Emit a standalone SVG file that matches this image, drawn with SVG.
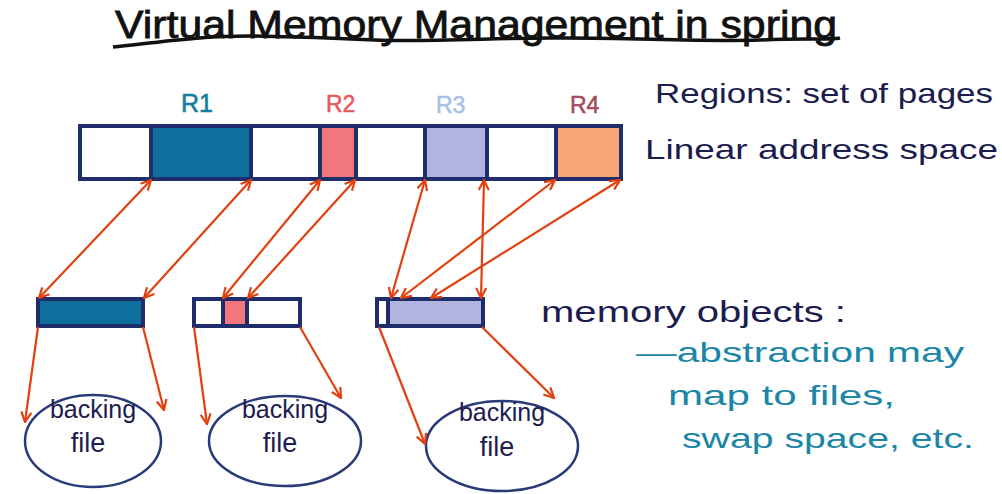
<svg xmlns="http://www.w3.org/2000/svg" width="1002" height="494" viewBox="0 0 1002 494">
<defs>
<style>
.hand{font-family:"Liberation Sans","DejaVu Sans",sans-serif;}
.navy{fill:#1c1c4e;}
.teal{fill:#1b86a6;}
.box{stroke:#1f2d6b;stroke-width:4;}
.div{stroke:#1f2d6b;stroke-width:4;}
.conn{stroke:#e2400f;stroke-width:2.2;fill:none;}
.ell{fill:none;stroke:#2a3a78;stroke-width:2.5;}
</style>
<marker id="ah" viewBox="0 0 12 12" refX="11" refY="6" markerWidth="12" markerHeight="12" markerUnits="userSpaceOnUse" orient="auto-start-reverse">
<path d="M1,1 L11,6 L1,11" fill="none" stroke="#e2400f" stroke-width="2.2"/>
</marker>
</defs>
<rect width="1002" height="494" fill="#ffffff"/>
<g id="title">
<text class="hand" x="115" y="38" font-size="38" fill="#111" stroke="#111" stroke-width="0.8" textLength="722" lengthAdjust="spacingAndGlyphs">Virtual Memory Management in spring</text>
<path d="M113,47 C160,42 200,36 250,36 C300,37 330,38 375,40 C420,42 500,38 550,38 C620,37 700,42 760,40 C800,38 830,40 840,38" fill="none" stroke="#111" stroke-width="3.5"/>
</g>
<g id="labels">
<text class="hand" x="181" y="112" font-size="25" fill="#14809f" stroke="#14809f" stroke-width="0.6">R1</text>
<text class="hand" x="326" y="112" font-size="23" fill="#e8575d" stroke="#e8575d" stroke-width="0.5">R2</text>
<text class="hand" x="436" y="113" font-size="23" fill="#a8c0e8" stroke="#a8c0e8" stroke-width="0.5">R3</text>
<text class="hand" x="570" y="113" font-size="23" fill="#a24a5a" stroke="#a24a5a" stroke-width="0.5">R4</text>
</g>
<g id="address-space">
<rect x="80" y="126" width="541" height="53" fill="#fff" class="box"/>
<rect x="151" y="126" width="100" height="53" fill="#0e6f9c"/>
<rect x="320" y="126" width="36" height="53" fill="#f2777d"/>
<rect x="425" y="126" width="62" height="53" fill="#b1b4de"/>
<rect x="556" y="126" width="65" height="53" fill="#f8a676"/>
<rect x="80" y="126" width="541" height="53" fill="none" class="box"/>
<g class="div">
<line x1="151" y1="126" x2="151" y2="179"/>
<line x1="251" y1="126" x2="251" y2="179"/>
<line x1="320" y1="126" x2="320" y2="179"/>
<line x1="356" y1="126" x2="356" y2="179"/>
<line x1="425" y1="126" x2="425" y2="179"/>
<line x1="487" y1="126" x2="487" y2="179"/>
<line x1="556" y1="126" x2="556" y2="179"/>
</g>
</g>
<g id="memobj1">
<rect x="38" y="299" width="105" height="27" fill="#0e6f9c" class="box"/>
</g>
<g id="memobj2">
<rect x="194" y="299" width="106" height="27" fill="#fff" class="box"/>
<rect x="223" y="299" width="24" height="27" fill="#f2777d" class="box"/>
</g>
<g id="memobj3">
<rect x="377" y="299" width="106" height="27" fill="#b1b4de" class="box"/>
<rect x="377" y="299" width="11" height="27" fill="#fff" class="box"/>
</g>
<g id="file1">
<ellipse cx="93" cy="441" rx="68" ry="46" class="ell"/>
<text class="hand navy" x="93" y="418" font-size="25" text-anchor="middle">backing</text>
<text class="hand navy" x="88" y="452" font-size="27" text-anchor="middle">file</text>
</g>
<g id="file2">
<ellipse cx="285" cy="441" rx="76" ry="45" class="ell"/>
<text class="hand navy" x="285" y="418" font-size="25" text-anchor="middle">backing</text>
<text class="hand navy" x="280" y="452" font-size="27" text-anchor="middle">file</text>
</g>
<g id="file3">
<ellipse cx="502" cy="446" rx="76" ry="45" class="ell"/>
<text class="hand navy" x="502" y="421" font-size="25" text-anchor="middle">backing</text>
<text class="hand navy" x="497" y="456" font-size="27" text-anchor="middle">file</text>
</g>
<g id="notes">
<text class="hand navy" x="655" y="103" font-size="28" textLength="338" lengthAdjust="spacingAndGlyphs">Regions: set of pages</text>
<text class="hand navy" x="645" y="159" font-size="28" textLength="353" lengthAdjust="spacingAndGlyphs">Linear address space</text>
<text class="hand navy" x="541" y="322" font-size="30" textLength="305" lengthAdjust="spacingAndGlyphs">memory objects :</text>
<text class="hand teal" x="636" y="362" font-size="28" textLength="328" lengthAdjust="spacingAndGlyphs">—abstraction may</text>
<text class="hand teal" x="668" y="405" font-size="28" textLength="227" lengthAdjust="spacingAndGlyphs">map to files,</text>
<text class="hand teal" x="682" y="448" font-size="28" textLength="292" lengthAdjust="spacingAndGlyphs">swap space, etc.</text>
</g>
<g id="connectors">
<line class="conn" x1="151" y1="180" x2="39" y2="298" marker-start="url(#ah)" marker-end="url(#ah)"/>
<line class="conn" x1="251" y1="180" x2="144" y2="298" marker-start="url(#ah)" marker-end="url(#ah)"/>
<line class="conn" x1="320" y1="180" x2="223" y2="298" marker-start="url(#ah)" marker-end="url(#ah)"/>
<line class="conn" x1="355" y1="180" x2="248" y2="298" marker-start="url(#ah)" marker-end="url(#ah)"/>
<line class="conn" x1="425" y1="180" x2="391" y2="298" marker-start="url(#ah)" marker-end="url(#ah)"/>
<line class="conn" x1="484" y1="180" x2="481" y2="298" marker-start="url(#ah)" marker-end="url(#ah)"/>
<line class="conn" x1="555" y1="180" x2="401" y2="298" marker-start="url(#ah)" marker-end="url(#ah)"/>
<line class="conn" x1="620" y1="180" x2="431" y2="298" marker-start="url(#ah)" marker-end="url(#ah)"/>
<line class="conn" x1="38" y1="327" x2="25" y2="422" marker-end="url(#ah)"/>
<line class="conn" x1="143" y1="327" x2="164" y2="410" marker-end="url(#ah)"/>
<line class="conn" x1="194" y1="327" x2="207" y2="424" marker-end="url(#ah)"/>
<line class="conn" x1="300" y1="327" x2="341" y2="398" marker-end="url(#ah)"/>
<line class="conn" x1="379" y1="327" x2="425" y2="444" marker-end="url(#ah)"/>
<line class="conn" x1="482" y1="327" x2="554" y2="398" marker-end="url(#ah)"/>
</g>
</svg>
